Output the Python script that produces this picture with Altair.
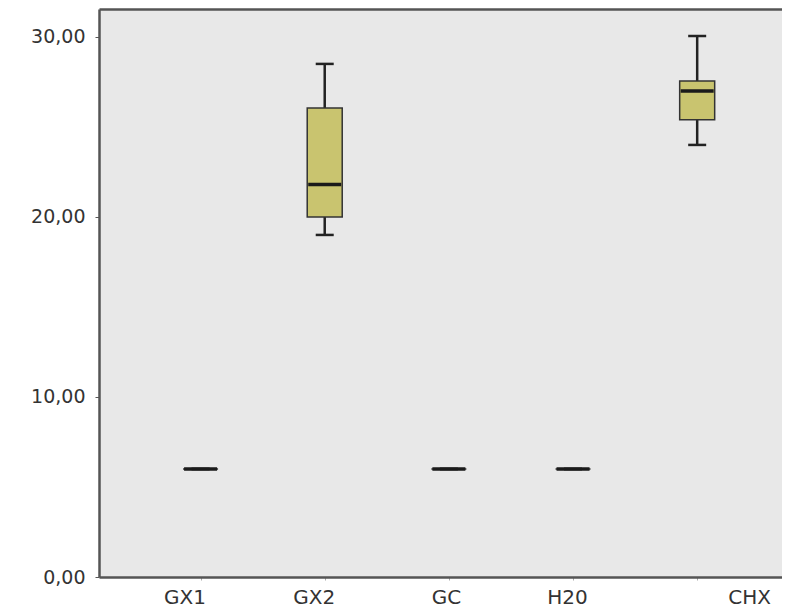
import altair as alt
import pandas as pd

cats = ["GX1", "GX2", "GC", "H20", "CHX"]
mins = [6.0, 19.0, 6.0, 6.0, 24.0]
q1s = [6.0, 20.0, 6.0, 6.0, 25.4]
meds = [6.0, 21.8, 6.0, 6.0, 27.0]
q3s = [6.0, 26.05, 6.0, 6.0, 27.55]
maxs = [6.0, 28.5, 6.0, 6.0, 30.05]

df = pd.DataFrame({"i": list(range(len(cats))), "g": cats, "lo": mins, "q1": q1s,
                   "med": meds, "q3": q3s, "hi": maxs})

label_offset = {
    "condition": [
        {"test": "datum.value === 0", "value": -16},
        {"test": "datum.value === 1", "value": -11},
        {"test": "datum.value === 2", "value": -3},
        {"test": "datum.value === 3", "value": -6},
        {"test": "datum.value === 4", "value": 52},
    ],
    "value": 0,
}
names_js = "[" + ",".join("'" + c + "'" for c in cats) + "]"

xscale = alt.Scale(domain=[-0.7778, 4.6429], nice=False, zero=False)
x = alt.X("i:Q", title=None, scale=xscale,
          axis=alt.Axis(values=list(range(len(cats))), labelExpr=names_js + "[datum.value]",
                        grid=False, labelAngle=0, labelFont="DejaVu Sans", labelFontSize=20,
                        labelColor="#333", domainColor="#555", domainWidth=2.5,
                        tickColor="#aaa", tickSize=3, labelPadding=7,
                        labelOffset=label_offset))
yscale = alt.Scale(domain=[0, 31.55], nice=False, zero=True)
yaxis = alt.Axis(values=[0, 10, 20, 30], grid=False, title=None,
                 labelExpr="replace(format(datum.value, '.2f'), '.', ',')",
                 labelFont="DejaVu Sans", labelFontSize=19, labelColor="#333",
                 domainColor="#555", domainWidth=2.5, tickColor="#555",
                 tickSize=4, labelPadding=10)

base = alt.Chart(df)

whisk_lo = base.mark_rule(color="#222", strokeWidth=2.5).encode(
    x=x, y=alt.Y("lo:Q", scale=yscale, axis=yaxis), y2="q1:Q")
whisk_hi = base.mark_rule(color="#222", strokeWidth=2.5).encode(
    x=x, y=alt.Y("q3:Q", scale=yscale, axis=yaxis), y2="hi:Q")
cap_lo = base.mark_tick(color="#222", size=18, thickness=2.5, opacity=1,
                        orient="horizontal").encode(
    x=x, y=alt.Y("lo:Q", scale=yscale, axis=yaxis))
cap_hi = base.mark_tick(color="#222", size=18, thickness=2.5, opacity=1,
                        orient="horizontal").encode(
    x=x, y=alt.Y("hi:Q", scale=yscale, axis=yaxis))
box = base.mark_bar(size=35, fill="#c9c46f", stroke="#333", strokeWidth=1.5,
                    opacity=1).encode(
    x=x, y=alt.Y("q1:Q", scale=yscale, axis=yaxis), y2="q3:Q")
median = base.mark_tick(color="#1a1a1a", size=33, thickness=3.5, opacity=1,
                        orient="horizontal").encode(
    x=x, y=alt.Y("med:Q", scale=yscale, axis=yaxis))

main = alt.layer(whisk_lo, whisk_hi, cap_lo, cap_hi, box, median)

top = base.mark_tick(opacity=0, orient="horizontal").encode(
    x=alt.X("i:Q", title=None, scale=xscale,
            axis=alt.Axis(orient="top", labels=False, ticks=False, grid=False,
                          domainColor="#555", domainWidth=2.5)),
    y=alt.Y("med:Q", scale=yscale, axis=yaxis),
)

chart = alt.layer(main, top).resolve_axis(x="independent").properties(
    width=683, height=568,
    padding={"left": 22, "top": 1, "right": 0, "bottom": 0},
).configure_view(fill="#e8e8e8", stroke="transparent")

chart.save("out.html", embed_options={"renderer": "svg", "actions": False})
